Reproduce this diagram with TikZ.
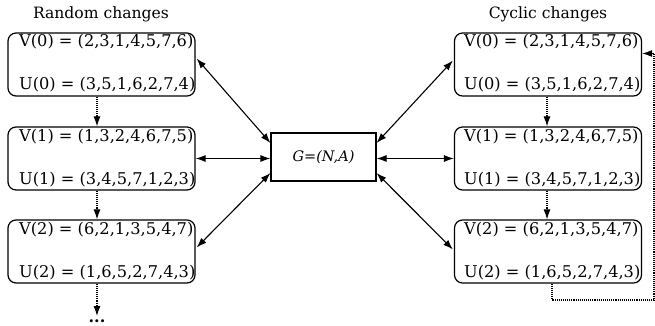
\documentclass[tikz,border=0pt]{standalone}
\usepackage{fontspec}
\setmainfont{DejaVu Serif}
\usetikzlibrary{arrows.meta,calc}
\begin{document}
\begin{tikzpicture}[x=1pt,y=-1pt,
  vbox/.style={draw,line width=1.2pt,rounded corners=8pt,minimum width=187pt,minimum height=63pt,inner sep=0pt},
  gbox/.style={draw,line width=1.1pt,minimum width=105pt,minimum height=48pt,inner sep=0pt,font=\fontsize{14.5}{16}\selectfont\itshape},
  txt/.style={anchor=base west,inner sep=0pt,font=\fontsize{16.2}{18}\selectfont},
  ttl/.style={inner sep=0pt,font=\fontsize{15.6}{18}\selectfont},
  both/.style={{Latex[length=10pt,width=7pt]}-{Latex[length=10pt,width=7pt]},line width=1.1pt},
  dots/.style={-{Latex[length=10pt,width=7pt]},line width=1.1pt,densely dotted}
]
\useasboundingbox (0,0) rectangle (655,326);
% titles
\node[ttl] (tl) at (101,14) {Random changes};
\node[ttl] (tr) at (548,14) {Cyclic changes};
% left boxes
\node[vbox] (l0) at (101.5,64.5) {};
\node[vbox] (l1) at (101.5,158.5) {};
\node[vbox] (l2) at (101.5,251.5) {};
% right boxes
\node[vbox] (r0) at (548,64.5) {};
\node[vbox] (r1) at (548,158.5) {};
\node[vbox] (r2) at (548,251.5) {};
% centre
\node[gbox] (G) at (323.5,157) {G=(N,A)};
% texts left
\node[txt] (l0v) at (19,47) {V(0) = (2,3,1,4,5,7,6)};
\node[txt] (l0u) at (19,90) {U(0) = (3,5,1,6,2,7,4)};
\node[txt] (l1v) at (19,141) {V(1) = (1,3,2,4,6,7,5)};
\node[txt] (l1u) at (19,184) {U(1) = (3,4,5,7,1,2,3)};
\node[txt] (l2v) at (19,234) {V(2) = (6,2,1,3,5,4,7)};
\node[txt] (l2u) at (19,277) {U(2) = (1,6,5,2,7,4,3)};
% texts right
\node[txt] (r0v) at (464,47) {V(0) = (2,3,1,4,5,7,6)};
\node[txt] (r0u) at (464,90) {U(0) = (3,5,1,6,2,7,4)};
\node[txt] (r1v) at (464,141) {V(1) = (1,3,2,4,6,7,5)};
\node[txt] (r1u) at (464,184) {U(1) = (3,4,5,7,1,2,3)};
\node[txt] (r2v) at (464,234) {V(2) = (6,2,1,3,5,4,7)};
\node[txt] (r2u) at (464,277) {U(2) = (1,6,5,2,7,4,3)};
% arrows to G
\draw[both] ($(l0.east)+(1,-6)$) -- ($(G.west)+(0,-14)$);
\draw[both] (l1.east) -- (l1.east -| G.west);
\draw[both] ($(l2.east)+(1,-4)$) -- ($(G.west)+(0,16)$);
\draw[both] ($(r0.west)+(-1,-4)$) -- ($(G.east)+(0,-14)$);
\draw[both] (r1.west) -- (r1.west -| G.east);
\draw[both] ($(r2.west)+(-1,-2)$) -- ($(G.east)+(0,16)$);
% dotted left
\draw[dots] ($(l0.south)+(-4.5,0)$) -- ($(l1.north)+(-4.5,0)$);
\draw[dots] ($(l1.south)+(-4.5,0)$) -- ($(l2.north)+(-4.5,0)$);
\coordinate (lend) at (97,316);
\draw[dots] ($(l2.south)+(-4.5,0)$) -- (lend);
\node[inner sep=0pt,font=\fontsize{16}{18}\selectfont\bfseries] (ell) at (97,321) {...};
% dotted right
\draw[dots] ($(r0.south)+(-1,0)$) -- ($(r1.north)+(-1,0)$);
\draw[dots] ($(r1.south)+(-1,0)$) -- ($(r2.north)+(-1,0)$);
\coordinate (c1) at (654,300);
\draw[dots] ($(r2.south)+(4,0)$) |- (c1) |- ($(r0.east)+(0,-11)$);
\end{tikzpicture}
\end{document}
